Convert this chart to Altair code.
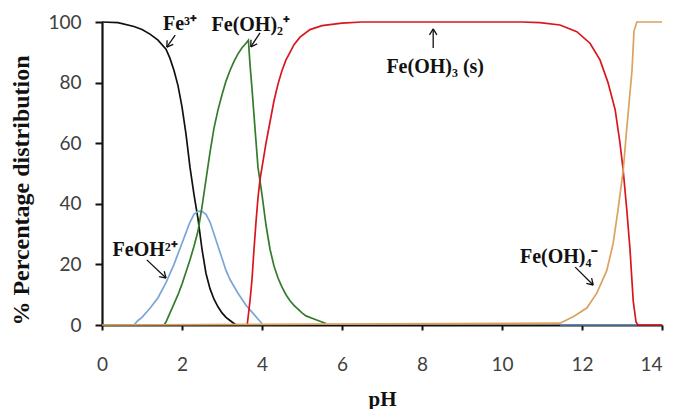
import math
import altair as alt
import pandas as pd

# ---------------- data ----------------
ph_fe3 = [0, 0.4, 0.8, 1.0, 1.2, 1.4, 1.6, 1.7, 1.8, 1.9, 2.0, 2.1, 2.2, 2.3, 2.4,
          2.5, 2.6, 2.7, 2.8, 2.9, 3.0, 3.1, 3.2, 3.3, 3.35]
pct_fe3 = [100, 99.8, 98.5, 97.5, 96, 94, 91, 88, 84, 79, 72, 63, 52, 43, 35,
           25, 17, 12, 8.5, 6, 4, 2.5, 1.5, 0.5, 0]

ph_feoh = [0.8, 0.9, 1.0, 1.2, 1.4, 1.6, 1.8, 2.0, 2.1, 2.2, 2.3, 2.4, 2.5, 2.6,
           2.7, 2.8, 2.9, 3.0, 3.1, 3.2, 3.4, 3.6, 3.8, 3.9, 4.0]
pct_feoh = [0, 1.5, 2.5, 5.5, 9, 14, 20, 27, 30.5, 34, 36.5, 37.5, 37.5, 36.5,
            34, 30, 26, 22, 18, 15, 10.5, 6.5, 3.5, 2, 0.5]

ph_feoh2 = [1.55, 1.6, 1.7, 1.8, 1.9, 2.0, 2.1, 2.2, 2.3, 2.4, 2.5, 2.6, 2.7, 2.8,
            2.9, 3.0, 3.1, 3.2, 3.3, 3.4, 3.5, 3.6, 3.66, 3.7, 3.75, 3.83, 3.9,
            4.0, 4.1, 4.2, 4.3, 4.4, 4.5, 4.6, 4.7, 4.8, 5.0, 5.1, 5.3, 5.6]
pct_feoh2 = [0, 1, 4, 7, 10, 13.5, 17.5, 21.5, 26, 31, 39, 48, 57, 65,
             71, 76, 80.5, 84, 87, 89.5, 91.5, 93, 94, 86, 78, 64, 52,
             43, 33, 25, 19.5, 15.5, 12.5, 10, 8, 6.5, 4, 3, 2, 0.5]

ph_feoh3 = [3.63, 3.7, 3.75, 3.8, 3.85, 3.9, 3.95, 4.0, 4.1, 4.2, 4.3, 4.4, 4.5,
            4.6, 4.7, 4.8, 4.95, 5.2, 5.5, 6.0, 6.5, 10.5, 10.95, 11.45, 11.87,
            12.2, 12.45, 12.65, 12.83, 12.95, 13.03, 13.12, 13.2, 13.28, 13.35,
            13.4, 14.0]
pct_feoh3 = [0, 8, 15, 25, 34, 42, 48, 52, 60, 67, 74, 79.5, 84,
             87.5, 90, 92.5, 95, 97.5, 98.8, 99.6, 100, 100, 99.8, 99, 96.8,
             93, 87.5, 80, 71, 60, 51, 38, 25, 8, 1,
             0, 0]

ph_feoh4 = [0, 11.45, 11.78, 12.12, 12.37, 12.62, 12.78, 12.9, 13.03, 13.12,
            13.25, 13.3, 13.37, 14.0]
pct_feoh4 = [0, 0.6, 2.7, 5.6, 10.5, 18, 27, 38, 51, 65,
             84, 97, 100, 100]

ph_base = [11.45, 13.37]
pct_base = [0, 0]

series_names = ["Fe3+", "FeOH2+", "Fe(OH)2+", "Fe(OH)3(s)", "Fe(OH)4-", "base"]
series_colors = ["#111111", "#7ba5d6", "#347c2c", "#d9161d", "#d9a35f", "#5b86b5"]
series_x = [ph_fe3, ph_feoh, ph_feoh2, ph_feoh3, ph_feoh4, ph_base]
series_y = [pct_fe3, pct_feoh, pct_feoh2, pct_feoh3, pct_feoh4, pct_base]
draw_order = [5, 0, 1, 2, 3, 4]

x_ticks = [0, 2, 4, 6, 8, 10, 12, 14]
y_ticks = [0, 20, 40, 60, 80, 100]

# annotations: label, label pH, label %, arrow tail (pH, %), arrow head (pH, %)
ann_text = ["Fe³⁺", "Fe(OH)₂⁺", "Fe(OH)₃ (s)", "FeOH²⁺", "Fe(OH)₄⁻"]
ann_x = [1.95, 3.72, 8.33, 1.08, 11.43]
ann_y = [99.5, 99.0, 85.0, 24.8, 22.4]
arr_tx = [1.83, 3.95, 8.28, 1.12, 11.83]
arr_ty = [95.7, 96.4, 91.4, 21.5, 19.1]
arr_hx = [1.62, 3.72, 8.28, 1.60, 12.28]
arr_hy = [91.7, 91.8, 97.7, 15.5, 13.2]

# ---------------- chart ----------------
W, H = 560, 303
XMAX, YMAX = 14.0, 100.0

xenc = alt.X("pH:Q", scale=alt.Scale(domain=[0, XMAX], nice=False, zero=False),
             axis=alt.Axis(values=x_ticks, title="pH", grid=False, labelFlush=False,
                           labelAlign=alt.expr("datum.value == 14 ? 'right' : 'center'"),
                           tickSize=5, labelPadding=25, titlePadding=14))
yenc = alt.Y("pct:Q", scale=alt.Scale(domain=[0, YMAX], nice=False),
             axis=alt.Axis(values=y_ticks, title="% Percentage distribution", grid=False,
                           tickSize=7, labelPadding=14, titlePadding=14,
                           titleFontSize=24, titleY=168))

layers = []
for i in draw_order:
    df = pd.DataFrame({"pH": series_x[i], "pct": series_y[i]})
    layers.append(alt.Chart(df).mark_line(strokeWidth=1.7, color=series_colors[i])
                  .encode(x=xenc, y=yenc))

# annotation labels
lab_df = pd.DataFrame({"pH": ann_x, "pct": ann_y, "t": ann_text})
layers.append(alt.Chart(lab_df).mark_text(font="Liberation Serif", fontWeight="bold",
                                          fontSize=20, color="#111111",
                                          align="center", baseline="middle")
              .encode(x=xenc, y=yenc, text="t:N"))

# arrow shafts
sh_df = pd.DataFrame({"pH": arr_tx, "pct": arr_ty, "pH2": arr_hx, "pct2": arr_hy})
layers.append(alt.Chart(sh_df).mark_rule(strokeWidth=1.3, color="#111111")
              .encode(x=xenc, y=yenc, x2="pH2:Q", y2="pct2:Q"))

# arrow heads (open chevrons), built in pixel space from the scales
sx, sy = W / XMAX, H / YMAX
hx1, hy1, hx2, hy2 = [], [], [], []
L, ang = 7.0, math.radians(32)
for tx, ty, hx, hy in zip(arr_tx, arr_ty, arr_hx, arr_hy):
    dx, dy = (hx - tx) * sx, (hy - ty) * sy
    n = math.hypot(dx, dy)
    dx, dy = dx / n, dy / n
    for s in (1, -1):
        ca, sa = math.cos(s * ang), math.sin(s * ang)
        rx = dx * ca - dy * sa
        ry = dx * sa + dy * ca
        hx1.append(hx)
        hy1.append(hy)
        hx2.append(hx - L * rx / sx)
        hy2.append(hy - L * ry / sy)
hd_df = pd.DataFrame({"pH": hx1, "pct": hy1, "pH2": hx2, "pct2": hy2})
layers.append(alt.Chart(hd_df).mark_rule(strokeWidth=1.3, color="#111111")
              .encode(x=xenc, y=yenc, x2="pH2:Q", y2="pct2:Q"))

chart = (alt.layer(*layers)
         .properties(width=W, height=H,
                     autosize=alt.AutoSizeParams(type="none"),
                     padding={"left": 94, "top": 14, "right": 3, "bottom": 84})
         .configure_view(stroke=None)
         .configure_axis(labelFont="Lato", labelFontSize=19, labelColor="#404040",
                         titleFont="Liberation Serif", titleFontWeight="bold",
                         titleFontSize=21, titleColor="#111111",
                         domainColor="#111111", domainWidth=2.2,
                         tickColor="#111111", tickWidth=2))

chart.save("out.html", embed_options={"renderer": "svg", "actions": False})
